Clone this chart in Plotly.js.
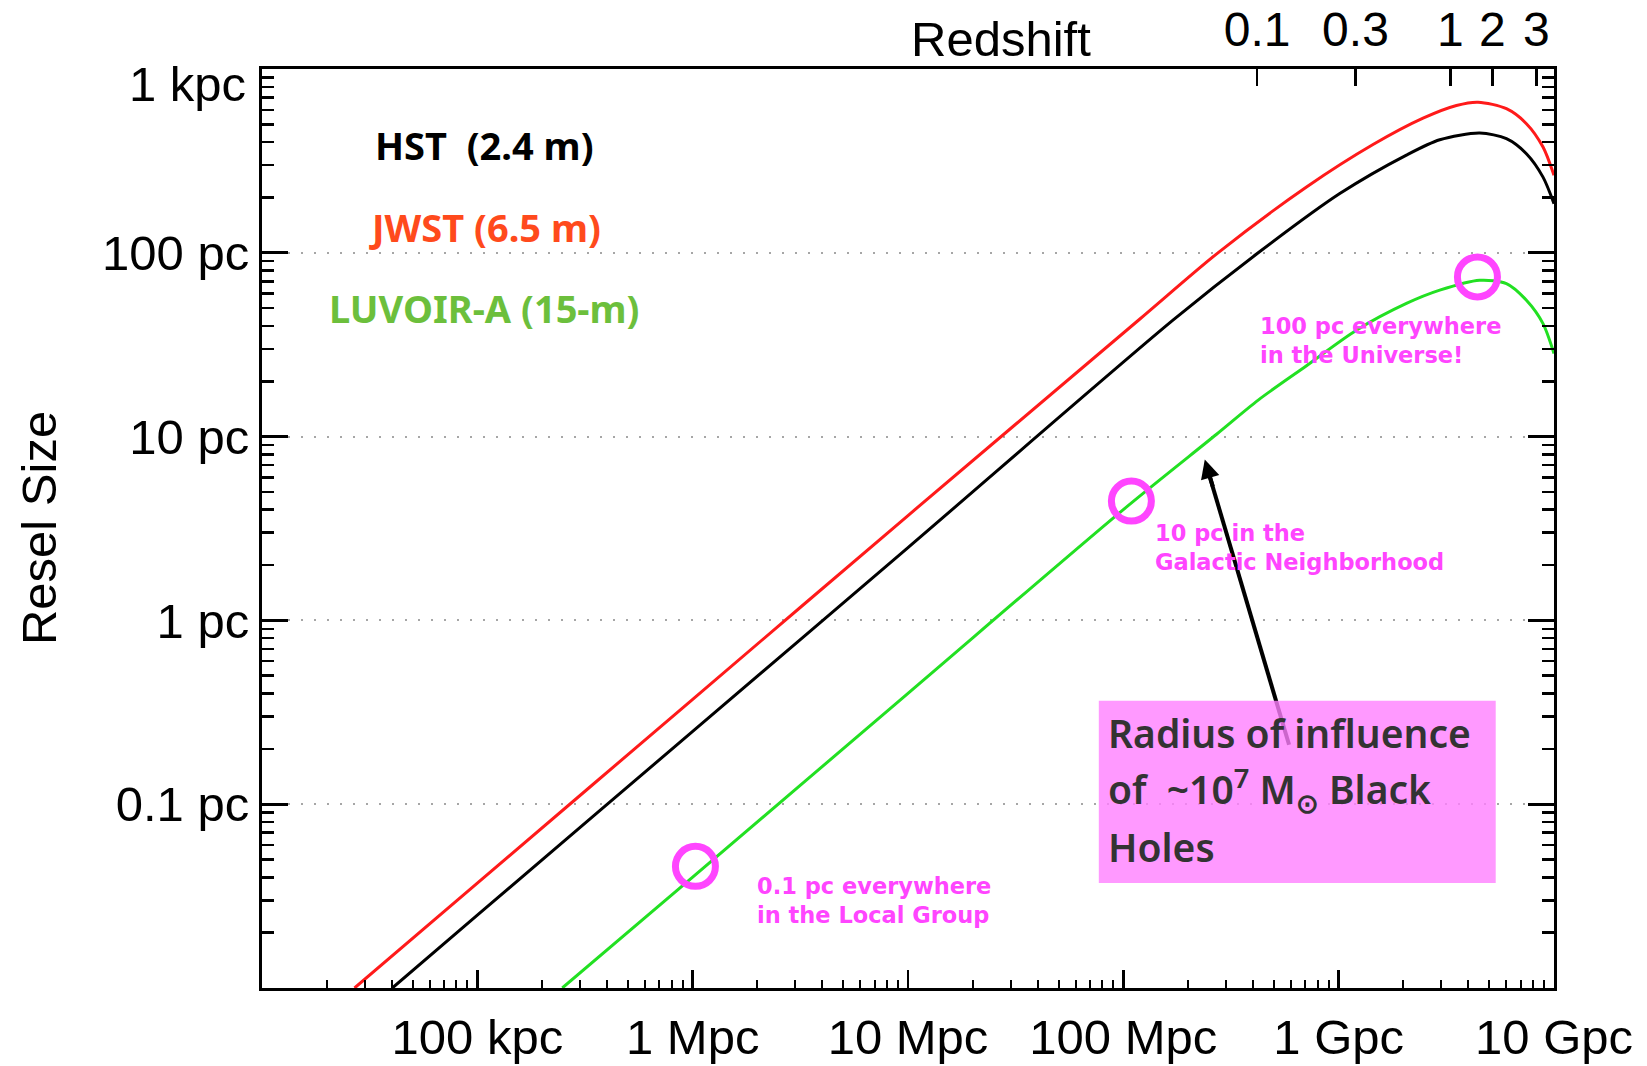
<!DOCTYPE html>
<html><head><meta charset="utf-8">
<script src="https://cdn.plot.ly/plotly-3.0.1.min.js"></script>
<style>html,body{margin:0;padding:0;background:#fff;} #chart{width:1647px;height:1066px;}</style>
</head><body><div id="chart"></div>
<script>
// ---------- data (distance in Mpc, resel size in pc) ----------
const jwstDistMpc  = [0.0269, 0.1, 1, 10, 119, 275, 709, 1444, 2465, 3523, 4438, 6012, 7446, 8892, 10000];
const jwstReselPc  = [0.01, 0.0372, 0.372, 3.72, 43.5, 100, 228, 388, 540, 633, 660, 608, 504, 376, 264];

const hstDistMpc   = [0.0403, 0.1, 1, 10, 170, 423, 1012, 2064, 2947, 4519, 6012, 7446, 8892, 10000];
const hstReselPc   = [0.01, 0.0249, 0.249, 2.49, 43.0, 100, 210, 340, 412, 448, 418, 346, 258, 185];

const luvDistMpc   = [0.248, 1, 10, 100, 271, 423, 709, 1209, 2064, 2947, 4519, 6012, 7446, 8892, 10000];
const luvReselPc   = [0.01, 0.0401, 0.401, 4.01, 10.3, 15.8, 24.3, 37.9, 53.0, 62.6, 70.9, 68.0, 55.2, 41.2, 28.3];

// highlighted points on the LUVOIR curve
const markDistMpc  = [1.03, 109, 4410];
const markReselPc  = [0.0459, 4.46, 73.9];

// axis ticks
const xTickVals   = [0.1, 1, 10, 100, 1000, 10000];
const xTickText   = ['100 kpc', '1 Mpc', '10 Mpc', '100 Mpc', '1 Gpc', '10 Gpc'];
const yTickVals   = [0.1, 1, 10, 100];
const yTickText   = ['0.1 pc', '1 pc', '10 pc', '100 pc'];
const zTickDistMpc = [418, 1197, 3304, 5176, 8279];
const zTickText    = ['0.1', '0.3', '1', '2', '3'];

// ---------- helpers ----------
const L = 262, R = 1554.3, T = 68.5, B = 988.5;
function px(X){ return (X - L) / (R - L); }
function py(Y){ return (B - Y) / (B - T); }
function minorVals(lo, hi){
  const v = [];
  for (let e = lo; e < hi; e++) for (let k = 2; k <= 9; k++) v.push(k * Math.pow(10, e));
  return v;
}
const FONT = 'Liberation Sans, Arial, Helvetica, sans-serif';
const LABFONT = 'Noto Sans, Open Sans, sans-serif';
const MAG = '#ff45ff';

const traces = [
  {x: hstDistMpc, y: hstReselPc, type: 'scatter', mode: 'lines', name: 'HST',
   line: {color: '#000000', width: 3, shape: 'spline', smoothing: 0.8}},
  {x: jwstDistMpc, y: jwstReselPc, type: 'scatter', mode: 'lines', name: 'JWST',
   line: {color: '#ff1a1a', width: 3, shape: 'spline', smoothing: 0.8}},
  {x: luvDistMpc, y: luvReselPc, type: 'scatter', mode: 'lines', name: 'LUVOIR-A',
   line: {color: '#22e022', width: 3, shape: 'spline', smoothing: 0.8}},
  {x: markDistMpc, y: markReselPc, type: 'scatter', mode: 'markers', xaxis: 'x2',
   marker: {symbol: 'circle-open', size: 40, color: MAG, line: {color: MAG, width: 7}},
   hoverinfo: 'skip'}
];

const layout = {
  width: 1647, height: 1066,
  margin: {l: L, r: 1647 - R, t: T, b: 1066 - B, pad: 0},
  paper_bgcolor: '#ffffff', plot_bgcolor: '#ffffff',
  showlegend: false,
  font: {family: FONT, color: '#000000'},
  xaxis: {
    type: 'log', range: [-2, 4], showline: true, linewidth: 3, linecolor: '#000', mirror: true,
    ticks: 'inside', ticklen: 18, tickwidth: 2.5, tickcolor: '#000',
    tickmode: 'array', tickvals: xTickVals, ticktext: xTickText,
    tickfont: {size: 49, family: FONT, color: '#000'}, ticklabelstandoff: 4,
    showgrid: false, zeroline: false,
    minor: {tickmode: 'array', tickvals: minorVals(-2, 4), ticks: 'inside', ticklen: 8, tickwidth: 2, tickcolor: '#000', showgrid: false}
  },
  xaxis2: {
    type: 'log', range: [-2, 4], overlaying: 'x', side: 'top', anchor: 'y',
    showline: false, ticks: 'inside', ticklen: 17, tickwidth: 2.5, tickcolor: '#000',
    tickmode: 'array', tickvals: zTickDistMpc, ticktext: zTickText,
    tickfont: {size: 48, family: FONT, color: '#000'}, ticklabelstandoff: 12,
    showgrid: false, zeroline: false
  },
  yaxis: {
    type: 'log', range: [-2, 3], showline: true, linewidth: 3, linecolor: '#000', mirror: 'ticks',
    ticks: 'inside', ticklen: 26, tickwidth: 3, tickcolor: '#000',
    tickmode: 'array', tickvals: yTickVals, ticktext: yTickText,
    tickfont: {size: 49, family: FONT, color: '#000'}, ticklabelstandoff: 0,
    showgrid: true, gridcolor: '#a6a6a6', gridwidth: 2, griddash: '2px,11px', zeroline: false,
    minor: {tickmode: 'array', tickvals: minorVals(-2, 3), ticks: 'inside', ticklen: 12, tickwidth: 2.5, tickcolor: '#000', showgrid: false}
  },
  shapes: [
    {type: 'line', xref: 'paper', yref: 'paper', layer: 'above',
     x0: px(1289.3), y0: py(745), x1: px(1208), y1: py(470),
     line: {color: '#000', width: 4}},
    {type: 'rect', xref: 'paper', yref: 'paper', layer: 'above',
     x0: px(1099), y0: py(883.3), x1: px(1496), y1: py(701),
     fillcolor: 'rgba(255,128,255,0.8)', line: {width: 0}}
  ],
  annotations: [
    // axis titles / extra tick label
    {text: '1 kpc', xref: 'paper', yref: 'paper', x: px(248), y: py(84), xanchor: 'right', yanchor: 'middle',
     showarrow: false, font: {size: 49, family: FONT, color: '#000'}},
    {text: 'Redshift', xref: 'paper', yref: 'paper', x: px(1001), y: py(38), xanchor: 'center', yanchor: 'middle',
     showarrow: false, font: {size: 49, family: FONT, color: '#000'}},
    {text: 'Resel Size', xref: 'paper', yref: 'paper', x: px(39), y: py(528), xanchor: 'center', yanchor: 'middle',
     textangle: -90, showarrow: false, font: {size: 49, family: FONT, color: '#000'}},
    // labels of the curves
    {text: 'HST\u00a0\u00a0(2.4 m)', xref: 'paper', yref: 'paper', x: px(373), y: py(145), xanchor: 'left', yanchor: 'middle',
     showarrow: false, font: {size: 38, family: LABFONT, weight: 700, color: '#000'}},
    {text: 'JWST (6.5 m)', xref: 'paper', yref: 'paper', x: px(367), y: py(227), xanchor: 'left', yanchor: 'middle',
     showarrow: false, font: {size: 38, family: LABFONT, weight: 700, color: '#ff4a1c'}},
    {text: 'LUVOIR-A (15-m)', xref: 'paper', yref: 'paper', x: px(327), y: py(308), xanchor: 'left', yanchor: 'middle',
     showarrow: false, font: {size: 38, family: LABFONT, weight: 700, color: '#6cbf3c'}},
    // magenta notes
    {text: '100 pc everywhere<br>in the Universe!', xref: 'paper', yref: 'paper', x: px(1258), y: py(340),
     xanchor: 'left', yanchor: 'middle', align: 'left', showarrow: false,
     font: {size: 22.5, family: 'DejaVu Sans, sans-serif', weight: 700, color: MAG}},
    {text: '10 pc in the<br>Galactic Neighborhood', xref: 'paper', yref: 'paper', x: px(1153), y: py(548),
     xanchor: 'left', yanchor: 'middle', align: 'left', showarrow: false,
     font: {size: 22.5, family: 'DejaVu Sans, sans-serif', weight: 700, color: MAG}},
    {text: '0.1 pc everywhere<br>in the Local Group', xref: 'paper', yref: 'paper', x: px(755), y: py(901),
     xanchor: 'left', yanchor: 'middle', align: 'left', showarrow: false,
     font: {size: 22.5, family: 'DejaVu Sans, sans-serif', weight: 700, color: MAG}},
    // arrow head
    {text: '', xref: 'paper', yref: 'paper', x: px(1205), y: py(459.3), ax: 8.5, ay: 28.8,
     showarrow: true, arrowhead: 2, arrowsize: 0.95, arrowwidth: 4, arrowcolor: '#000'},
    // box text
    {text: 'Radius of influence', xref: 'paper', yref: 'paper', x: px(1106), y: py(733), xanchor: 'left', yanchor: 'middle',
     showarrow: false, font: {size: 39, family: LABFONT, weight: 600, color: '#333333'}},
    {text: 'of\u00a0\u00a0~10<sup>7</sup> M<sub>\u2299</sub> Black', xref: 'paper', yref: 'paper', x: px(1106), y: py(790), xanchor: 'left', yanchor: 'middle',
     showarrow: false, font: {size: 39, family: LABFONT, weight: 600, color: '#333333'}},
    {text: 'Holes', xref: 'paper', yref: 'paper', x: px(1106), y: py(847), xanchor: 'left', yanchor: 'middle',
     showarrow: false, font: {size: 39, family: LABFONT, weight: 600, color: '#333333'}}
  ]
};

Plotly.newPlot('chart', traces, layout, {displayModeBar: false, staticPlot: true});
</script>
</body></html>
